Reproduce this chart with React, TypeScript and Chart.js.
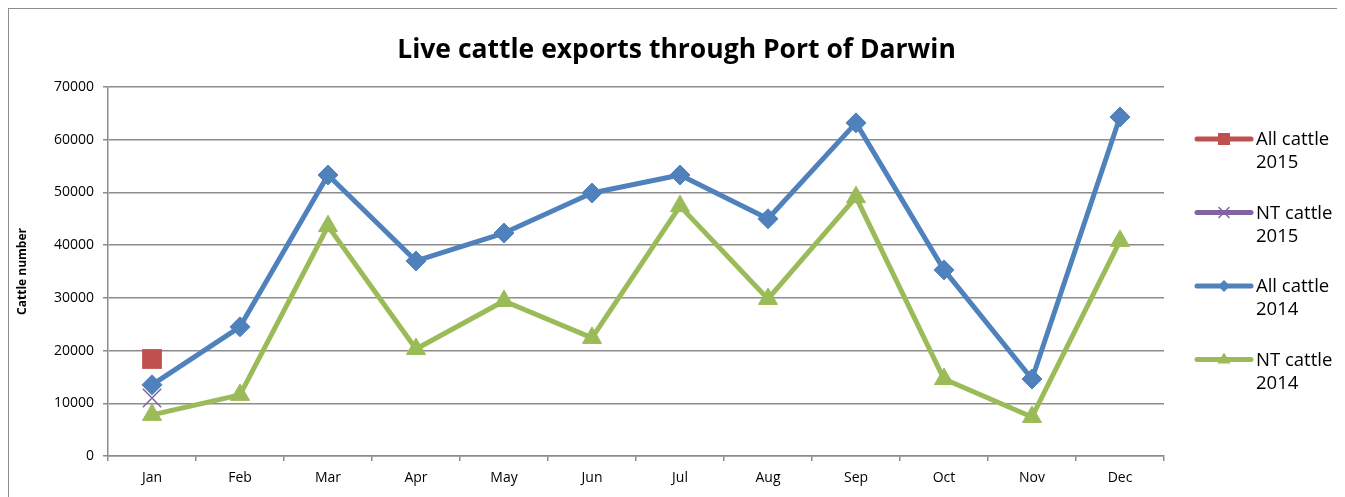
import { useEffect, useRef } from 'react';
import { Chart, registerables } from 'chart.js';

Chart.register(...registerables);

const months = ['Jan', 'Feb', 'Mar', 'Apr', 'May', 'Jun', 'Jul', 'Aug', 'Sep', 'Oct', 'Nov', 'Dec'];
const allCattle2015 = [18400, null, null, null, null, null, null, null, null, null, null, null];
const ntCattle2015 = [11000, null, null, null, null, null, null, null, null, null, null, null];
const allCattle2014 = [13500, 24500, 53300, 37000, 42300, 49900, 53300, 45000, 63200, 35300, 14600, 64300];
const ntCattle2014 = [7800, 11600, 43600, 20300, 29400, 22400, 47400, 29800, 49100, 14600, 7400, 40800];
const yMin = 0;
const yMax = 70000;
const yStep = 10000;
const chartTitle = 'Live cattle exports through Port of Darwin';
const yAxisTitle = 'Cattle number';
const legendLabels = [
  ['All cattle', '2015'],
  ['NT cattle', '2015'],
  ['All cattle', '2014'],
  ['NT cattle', '2014'],
];

const FONT = "'Open Sans', 'Noto Sans', sans-serif";
const GRID = '#8c8c8c';

function drawMarker(ctx: CanvasRenderingContext2D, style: string, x: number, y: number, color: string) {
  ctx.save();
  ctx.fillStyle = color;
  ctx.strokeStyle = color;
  ctx.beginPath();
  if (style === 'rect') {
    ctx.rect(x - 6, y - 6, 12, 12);
    ctx.fill();
  } else if (style === 'rectRot') {
    ctx.moveTo(x - 6, y);
    ctx.lineTo(x, y - 6);
    ctx.lineTo(x + 6, y);
    ctx.lineTo(x, y + 6);
    ctx.closePath();
    ctx.fill();
  } else if (style === 'triangle') {
    ctx.moveTo(x, y - 7);
    ctx.lineTo(x + 6.5, y + 4);
    ctx.lineTo(x - 6.5, y + 4);
    ctx.closePath();
    ctx.fill();
  } else if (style === 'crossRot') {
    ctx.lineWidth = 1.5;
    ctx.moveTo(x - 5, y - 5);
    ctx.lineTo(x + 5, y + 5);
    ctx.moveTo(x + 5, y - 5);
    ctx.lineTo(x - 5, y + 5);
    ctx.stroke();
  }
  ctx.restore();
}

const sideLegendAndTitle = {
  id: 'sideLegendAndTitle',
  afterDraw(chart: any) {
    const ctx: CanvasRenderingContext2D = chart.ctx;
    const area = chart.chartArea;
    // title, centred on the whole frame
    ctx.save();
    ctx.fillStyle = '#000';
    ctx.font = `bold 26.5px ${FONT}`;
    ctx.textAlign = 'center';
    ctx.textBaseline = 'middle';
    ctx.fillText(chartTitle, chart.width / 2, 41);
    ctx.restore();

    const x0 = area.right + 33;
    const x1 = x0 + 54;
    chart.data.datasets.forEach((ds: any, i: number) => {
      const y = 130 + i * 73.5;
      ctx.save();
      ctx.strokeStyle = ds.borderColor;
      ctx.lineWidth = 5;
      ctx.lineCap = 'round';
      ctx.beginPath();
      ctx.moveTo(x0, y);
      ctx.lineTo(x1, y);
      ctx.stroke();
      drawMarker(ctx, ds.pointStyle, (x0 + x1) / 2, y, ds.borderColor);
      ctx.fillStyle = '#000';
      ctx.font = `18.5px ${FONT}`;
      ctx.textBaseline = 'middle';
      ctx.textAlign = 'left';
      const lines = legendLabels[i];
      lines.forEach((t, k) => ctx.fillText(t, x1 + 5, y + 1 + k * 23));
      ctx.restore();
    });
  },
};

export default function App() {
  const ref = useRef<HTMLCanvasElement | null>(null);
  useEffect(() => {
    if (!ref.current) return;
    const chart = new Chart(ref.current, {
      type: 'line',
      data: {
        labels: months,
        datasets: [
          {
            label: 'All cattle 2015',
            data: allCattle2015,
            borderColor: '#C0504D',
            backgroundColor: '#C0504D',
            pointStyle: 'rect',
            pointRadius: 14,
            pointBorderWidth: 0,
            borderWidth: 5,
            order: 0,
          },
          {
            label: 'NT cattle 2015',
            data: ntCattle2015,
            borderColor: '#8064A2',
            backgroundColor: '#8064A2',
            pointStyle: 'crossRot',
            pointRadius: 13,
            pointBorderWidth: 1.5,
            borderWidth: 5,
            order: 3,
          },
          {
            label: 'All cattle 2014',
            data: allCattle2014,
            borderColor: '#4F81BD',
            backgroundColor: '#4F81BD',
            pointStyle: 'rectRot',
            pointRadius: 10,
            pointBorderWidth: 1,
            borderWidth: 5,
            borderJoinStyle: 'round',
            borderCapStyle: 'round',
            order: 1,
          },
          {
            label: 'NT cattle 2014',
            data: ntCattle2014,
            borderColor: '#9BBB59',
            backgroundColor: '#9BBB59',
            pointStyle: 'triangle',
            pointRadius: 11,
            pointBorderWidth: 1,
            borderWidth: 5,
            borderJoinStyle: 'round',
            borderCapStyle: 'round',
            order: 2,
          },
        ] as any,
      },
      options: {
        responsive: false,
        animation: false,
        layout: { padding: { left: 0, right: 180, top: 78, bottom: 0 } },
        plugins: {
          legend: { display: false },
          tooltip: { enabled: false },
          title: { display: false },
        },
        scales: {
          x: {
            type: 'category',
            offset: true,
            grid: {
              display: true,
              offset: true,
              drawOnChartArea: false,
              drawTicks: true,
              tickLength: 5,
              color: GRID,
              lineWidth: 1.5,
            },
            border: { display: true, color: GRID, width: 1.5 },
            ticks: { color: '#000', font: { family: FONT, size: 14 }, padding: 9, maxRotation: 0 },
            afterFit: (s: any) => {
              s.height = 41;
            },
          },
          y: {
            min: yMin,
            max: yMax,
            grid: { color: GRID, lineWidth: 1.5, tickLength: 5 },
            border: { display: true, color: GRID, width: 1.5 },
            ticks: {
              stepSize: yStep,
              color: '#000',
              font: { family: FONT, size: 14 },
              padding: 9,
              callback: (v: any) => String(v),
            },
            title: {
              display: true,
              text: yAxisTitle,
              color: '#000',
              font: { family: FONT, size: 12, weight: 'bold' },
              padding: { top: 6, bottom: 0 },
            },
            afterFit: (s: any) => {
              s.width = 99;
            },
          },
        },
      } as any,
      plugins: [sideLegendAndTitle],
    });
    return () => chart.destroy();
  }, []);

  return (
    <div
      style={{
        width: 1337,
        height: 489,
        borderTop: '1px solid #8e8e8e',
        borderLeft: '1px solid #8e8e8e',
        borderRight: '1px solid #dcdcdc',
        boxSizing: 'border-box',
        background: '#fff',
        overflow: 'hidden',
      }}
    >
      <canvas ref={ref} width={1335} height={488} style={{ display: 'block' }} />
    </div>
  );
}
